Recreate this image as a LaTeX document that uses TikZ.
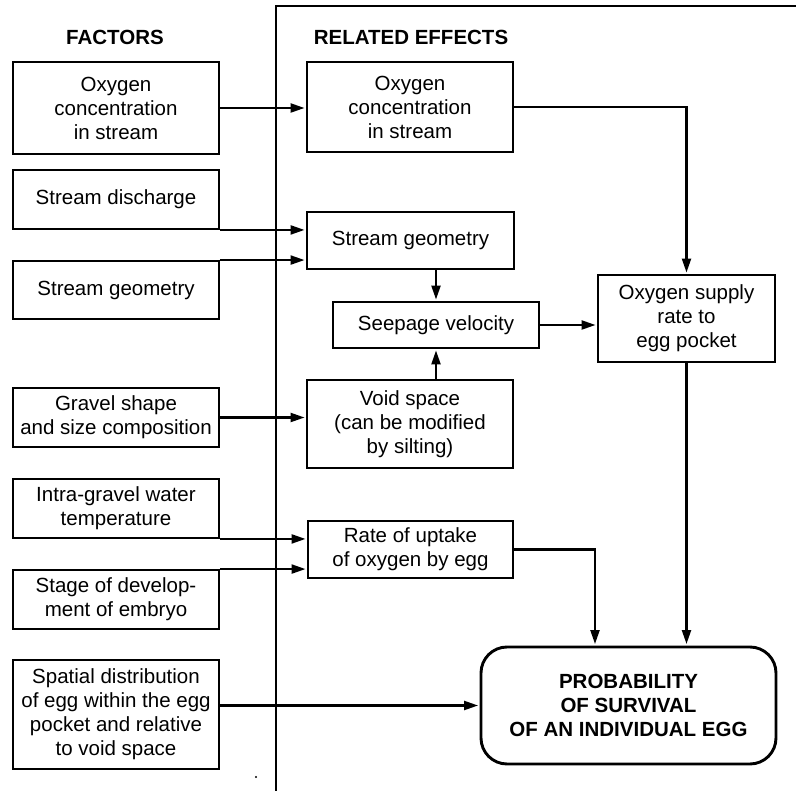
\documentclass[tikz,border=0pt]{standalone}
\usepackage{fontspec}
\setmainfont{Liberation Sans}
\usetikzlibrary{arrows.meta}
\begin{document}
\begin{tikzpicture}[x=1pt,y=-1pt,
  every node/.style={font=\fontsize{20.5}{24}\selectfont, align=center, inner sep=0pt},
  factorbox/.style={draw, line width=1.9pt, minimum width=206pt},
  effectbox/.style={draw, line width=1.9pt},
  outcomebox/.style={draw, line width=2.9pt, rounded corners=26pt,
    minimum width=295pt, minimum height=117pt, font=\fontsize{20.5}{24}\selectfont\bfseries},
  heading/.style={font=\fontsize{20.5}{24}\selectfont\bfseries},
  link/.style={line width=2.2pt, shorten >=1.5pt, -{Triangle[length=14pt,width=9pt]}},
  frameline/.style={line width=2.2pt}]
\useasboundingbox (0,0) rectangle (796,791);

% column frame
\coordinate (fb) at (276,791);
\coordinate (ft) at (276,6);
\coordinate (fr) at (796,6);
\draw[frameline] (fb) -- (ft) -- (fr);

% headings
\node[heading] (hf) at (115,37) {FACTORS};
\node[heading] (he) at (411,37) {RELATED EFFECTS};

% factors
\node[factorbox, minimum height=92pt] (f1) at (116,108) {Oxygen\\concentration\\in stream};
\node[factorbox, minimum height=59pt] (f2) at (116,199.5) {Stream discharge};
\node[factorbox, minimum height=58pt] (f3) at (116,290) {Stream geometry};
\node[factorbox, minimum height=59pt] (f4) at (116,417.5) {Gravel shape\\and size composition};
\node[factorbox, minimum height=59pt] (f5) at (116,508.5) {Intra-gravel water\\temperature};
\node[factorbox, minimum height=59pt] (f6) at (116,599.5) {Stage of develop-\\ment of embryo};
\node[factorbox, minimum height=109pt] (f7) at (116,714.5) {Spatial distribution\\of egg within the egg\\pocket and relative\\to void space};

% related effects
\node[effectbox, minimum width=206pt, minimum height=90pt] (e1) at (410,107) {Oxygen\\concentration\\in stream};
\node[effectbox, minimum width=207pt, minimum height=57pt] (e2) at (410.5,240.5) {Stream geometry};
\node[effectbox, minimum width=206pt, minimum height=46pt] (sv) at (436,325) {Seepage velocity};
\node[effectbox, minimum width=206pt, minimum height=88pt] (vs) at (410,424) {Void space\\(can be modified\\by silting)};
\node[effectbox, minimum width=205pt, minimum height=57pt] (ru) at (410.5,549.5) {Rate of uptake\\of oxygen by egg};
\node[effectbox, minimum width=177pt, minimum height=87pt] (os) at (686.5,318.5) {Oxygen supply\\rate to\\egg pocket};
\node[outcomebox] (ps) at (628.5,705.5) {PROBABILITY\\OF SURVIVAL\\OF AN INDIVIDUAL EGG};

% factor links
\draw[link] (f1.east) -- (e1.west |- f1.east);
\draw[link] (f2.south east) -- (e2.west |- f2.south east);
\draw[link] (f3.north east) -- (e2.west |- f3.north east);
\draw[link] (f4.east) -- (vs.west |- f4.east);
\draw[link] (f5.south east) -- (ru.west |- f5.south east);
\draw[link] (f6.north east) -- (ru.west |- f6.north east);
\draw[link] (f7.east |- ps.west) -- (ps.west);

% effect links
\draw[link] (e1.east) -| (os.north);
\draw[link] (e2.south -| sv.north) -- (sv.north);
\draw[link] (vs.north -| sv.south) -- (sv.south);
\draw[link] (sv.east) -- (sv.east -| os.west);
\draw[link] (ru.east) -| ([xshift=-33.5pt]ps.north);
\draw[link] (os.south) -- (os.south |- ps.north);

% small speck
\fill (256,777) circle (1.1pt);
\end{tikzpicture}
\end{document}
